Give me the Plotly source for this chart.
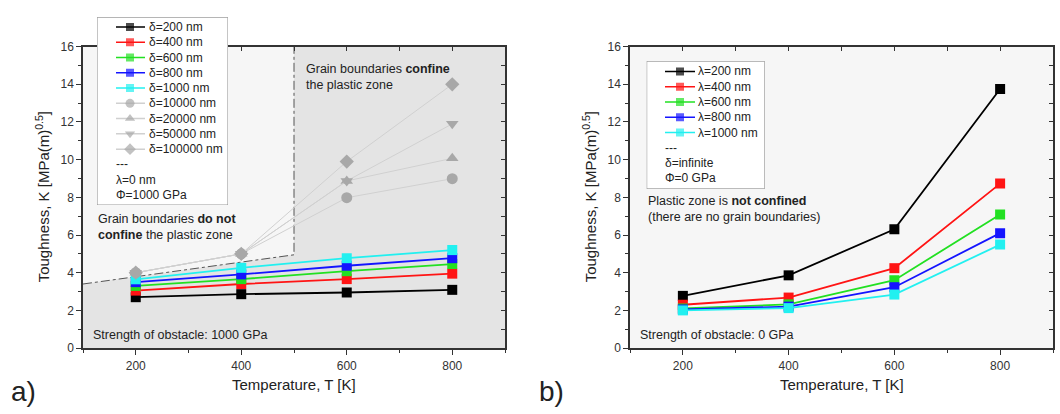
import plotly.graph_objects as go

W, H = 1060, 414
FONT = "Liberation Sans, Arial, Helvetica, sans-serif"

temperature = [200, 400, 600, 800]

# ---- panel a): grain size delta, obstacle strength 1000 GPa ----
k_d200 = [2.70, 2.86, 2.95, 3.09]
k_d400 = [3.05, 3.40, 3.66, 3.95]
k_d600 = [3.30, 3.66, 4.08, 4.46]
k_d800 = [3.50, 3.91, 4.37, 4.77]
k_d1000 = [3.65, 4.26, 4.77, 5.20]
k_d10000 = [4.0, 5.0, 7.98, 8.99]
k_d20000 = [4.0, 5.0, 8.87, 10.07]
k_d50000 = [4.0, 5.0, 8.87, 11.9]
k_d100000 = [4.0, 5.0, 9.9, 14.0]

delta_names = ["δ=200 nm", "δ=400 nm", "δ=600 nm", "δ=800 nm", "δ=1000 nm",
               "δ=10000 nm", "δ=20000 nm", "δ=50000 nm", "δ=100000 nm"]
delta_series = [k_d200, k_d400, k_d600, k_d800, k_d1000,
                k_d10000, k_d20000, k_d50000, k_d100000]
legend_a_extra = ["---", "λ=0 nm", "Φ=1000 GPa"]

# boundary between the confined / non-confined regimes
boundary_T = [100, 500, 500]
boundary_K = [3.4, 4.95, 16]

# ---- panel b): grain size infinite, obstacle strength 0 GPa ----
k_l200 = [2.77, 3.86, 6.30, 13.75]
k_l400 = [2.30, 2.68, 4.24, 8.73]
k_l600 = [2.10, 2.32, 3.60, 7.09]
k_l800 = [2.05, 2.20, 3.23, 6.10]
k_l1000 = [2.00, 2.12, 2.84, 5.49]

lambda_names = ["λ=200 nm", "λ=400 nm", "λ=600 nm", "λ=800 nm", "λ=1000 nm"]
lambda_series = [k_l200, k_l400, k_l600, k_l800, k_l1000]
legend_b_extra = ["---", "δ=infinite", "Φ=0 GPa"]

T_RANGE = [100, 900]
K_RANGE = [0, 16]

# ---- styles ----
base_colors = ["#000000", "#ff1414", "#22e022", "#1414ff", "#22f0f0"]
gray_marker = "#a8a8a8"
gray_line = "#d0d0d0"
delta_colors = base_colors + [gray_marker] * 4
delta_line_colors = base_colors + [gray_line] * 4
delta_symbols = ["square"] * 5 + ["circle", "triangle-up", "triangle-down", "diamond"]
delta_line_w = [1.8] * 5 + [1.0] * 4


def px(x):
    return x / W


def py(y):
    return 1 - y / H


fig = go.Figure()

# shaded regime where grain boundaries confine the plastic zone
zone_T = [boundary_T[0]] + boundary_T + [T_RANGE[1], T_RANGE[1]]
zone_K = [K_RANGE[0]] + boundary_K + [K_RANGE[1], K_RANGE[0]]
fig.add_trace(go.Scatter(x=zone_T, y=zone_K, fill="toself", fillcolor="#e4e4e4",
                         mode="lines", line=dict(width=0), hoverinfo="skip",
                         showlegend=False, xaxis="x", yaxis="y"))
fig.add_trace(go.Scatter(x=boundary_T, y=boundary_K, mode="lines",
                         line=dict(color="#555555", width=1, dash="dashdot"),
                         hoverinfo="skip", showlegend=False, xaxis="x", yaxis="y"))

for name, vals, col, lcol, sym, lw in zip(delta_names, delta_series, delta_colors,
                                          delta_line_colors, delta_symbols, delta_line_w):
    fig.add_trace(go.Scatter(x=temperature, y=vals, name=name, mode="lines+markers",
                             line=dict(color=lcol, width=lw),
                             marker=dict(symbol=sym, size=10 if sym == "square" else 11,
                                         color=col, line=dict(width=0)),
                             showlegend=False, xaxis="x", yaxis="y"))

for name, vals, col in zip(lambda_names, lambda_series, base_colors):
    fig.add_trace(go.Scatter(x=temperature, y=vals, name=name, mode="lines+markers",
                             line=dict(color=col, width=1.8),
                             marker=dict(symbol="square", size=10, color=col, line=dict(width=0)),
                             showlegend=False, xaxis="x2", yaxis="y2"))

# empty traces so the inward tick overlays are rendered
for xa, ya in [("x3", "y"), ("x", "y3"), ("x4", "y2"), ("x2", "y4")]:
    fig.add_trace(go.Scatter(x=[], y=[], showlegend=False, hoverinfo="skip", xaxis=xa, yaxis=ya))

# ---- hand-built legend boxes ----
ROW_STEP = 15.8
legend_boxes = [
    dict(ax="5", left=97, right=228, top=10.7, bottom=205, row0=20.7,
         key=(116, 130, 145), text_x=147, extra_x=114,
         names=delta_names, colors=delta_colors, lcolors=delta_line_colors,
         symbols=delta_symbols, extra=legend_a_extra),
    dict(ax="6", left=646.7, right=764.7, top=56, bottom=188.3, row0=66.7,
         key=(665, 680, 695), text_x=695.5, extra_x=663,
         names=lambda_names, colors=base_colors, lcolors=base_colors,
         symbols=["square"] * 5, extra=legend_b_extra),
]

shapes = []
annotations = []
for box in legend_boxes:
    xr, yr = "x" + box["ax"], "y" + box["ax"]
    shapes.append(dict(type="rect", xref=xr, yref=yr, layer="below",
                       x0=box["left"], x1=box["right"], y0=box["bottom"], y1=box["top"],
                       fillcolor="#ffffff", line=dict(color="#8a8a8a", width=1)))
    for i, (name, col, lcol, sym) in enumerate(zip(box["names"], box["colors"],
                                                    box["lcolors"], box["symbols"])):
        ry = box["row0"] + i * ROW_STEP
        fig.add_trace(go.Scatter(x=list(box["key"]), y=[ry] * 3, mode="lines+markers",
                                 line=dict(color=lcol, width=1.5),
                                 marker=dict(symbol=sym, size=[0, 8 if sym == "square" else 9, 0],
                                             color=col, line=dict(width=0)),
                                 hoverinfo="skip", showlegend=False, xaxis=xr, yaxis=yr))
        annotations.append(dict(text=name, xref=xr, yref=yr, x=box["text_x"], y=ry,
                                xanchor="left", yanchor="middle", showarrow=False,
                                font=dict(family=FONT, size=12, color="#222")))
    n = len(box["names"])
    for j, txt in enumerate(box["extra"]):
        ry = box["row0"] + (n + j) * ROW_STEP
        annotations.append(dict(text=txt, xref=xr, yref=yr, x=box["extra_x"], y=ry,
                                xanchor="left", yanchor="middle", showarrow=False,
                                font=dict(family=FONT, size=12, color="#222")))

# ---- axes ----
tickfont = dict(family=FONT, size=12, color="#333")
frame = dict(showline=True, linecolor="#333", linewidth=1.5, mirror=True,
             ticks="outside", ticklen=5, tickwidth=1.2, tickcolor="#333",
             showgrid=False, zeroline=False, tickfont=tickfont, fixedrange=True)
x_axis = dict(frame, range=T_RANGE, tick0=200, dtick=200, ticklabelstandoff=1,
              minor=dict(tick0=100, dtick=100, ticks="outside", ticklen=3,
                         tickwidth=1.2, tickcolor="#333", showgrid=False))
y_axis = dict(frame, range=K_RANGE, tick0=0, dtick=2,
              minor=dict(tick0=0, dtick=1, ticks="outside", ticklen=3,
                         tickwidth=1.2, tickcolor="#333", showgrid=False))
inner_x = dict(range=T_RANGE, tick0=100, dtick=100, ticks="inside", ticklen=4,
               tickwidth=1.2, tickcolor="#333", showticklabels=False, showline=False,
               showgrid=False, zeroline=False, side="top", fixedrange=True)
inner_y = dict(range=K_RANGE, tick0=0, dtick=1, ticks="inside", ticklen=4,
               tickwidth=1.2, tickcolor="#333", showticklabels=False, showline=False,
               showgrid=False, zeroline=False, side="right", fixedrange=True)
hidden = dict(visible=False, fixedrange=True, showgrid=False, zeroline=False)

dom_y = [py(353), py(41)]
dom_xa = [px(83), px(505)]
dom_xb = [px(630), px(1053)]

layout_axes = dict(
    xaxis=dict(x_axis, domain=dom_xa, anchor="y"),
    yaxis=dict(y_axis, domain=dom_y, anchor="x"),
    xaxis2=dict(x_axis, domain=dom_xb, anchor="y2"),
    yaxis2=dict(y_axis, domain=dom_y, anchor="x2"),
    xaxis3=dict(inner_x, overlaying="x", anchor="y"),
    yaxis3=dict(inner_y, overlaying="y", anchor="x"),
    xaxis4=dict(inner_x, overlaying="x2", anchor="y2"),
    yaxis4=dict(inner_y, overlaying="y2", anchor="x2"),
)
for box in legend_boxes:
    a = box["ax"]
    layout_axes["xaxis" + a] = dict(hidden, domain=[px(box["left"]), px(box["right"])],
                                    range=[box["left"], box["right"]], anchor="y" + a)
    layout_axes["yaxis" + a] = dict(hidden, domain=[py(box["bottom"]), py(box["top"])],
                                    range=[box["bottom"], box["top"]], anchor="x" + a)

# ---- text ----
def note(text, x, y, size=12.5, anchor="left", angle=0, yanchor="middle"):
    return dict(text=text, xref="paper", yref="paper", x=px(x), y=py(y),
                xanchor=anchor, yanchor=yanchor, showarrow=False, textangle=angle,
                align="left" if anchor == "left" else "center",
                font=dict(family=FONT, size=size, color="#222"))

ytitle = "Toughness, K [MPa(m)<sup>0.5</sup>]"
annotations += [
    note("Temperature, T [K]", 294, 391, size=15, anchor="center"),
    note("Temperature, T [K]", 841.5, 391, size=15, anchor="center"),
    note(ytitle, 42, 197, size=15, anchor="center", angle=-90),
    note(ytitle, 589, 197, size=15, anchor="center", angle=-90),
    note("Grain boundaries <b>do not</b><br><b>confine</b> the plastic zone", 95.5, 228),
    note("Grain boundaries <b>confine</b><br>the plastic zone", 303.5, 72),
    note("Strength of obstacle: 1000 GPa", 90.5, 339),
    note("Plastic zone is <b>not confined</b><br>(there are no grain boundaries)", 645.5, 209.5),
    note("Strength of obstacle: 0 GPa", 637.5, 339),
    note("a)", 9, 398, size=28),
    note("b)", 537, 398, size=28),
]

fig.update_layout(
    width=W, height=H, margin=dict(l=0, r=0, t=0, b=0),
    paper_bgcolor="#ffffff", plot_bgcolor="#f6f6f6",
    showlegend=False, shapes=shapes, annotations=annotations,
    font=dict(family=FONT, size=12, color="#222"),
    **layout_axes,
)

fig.write_html("out.html")
